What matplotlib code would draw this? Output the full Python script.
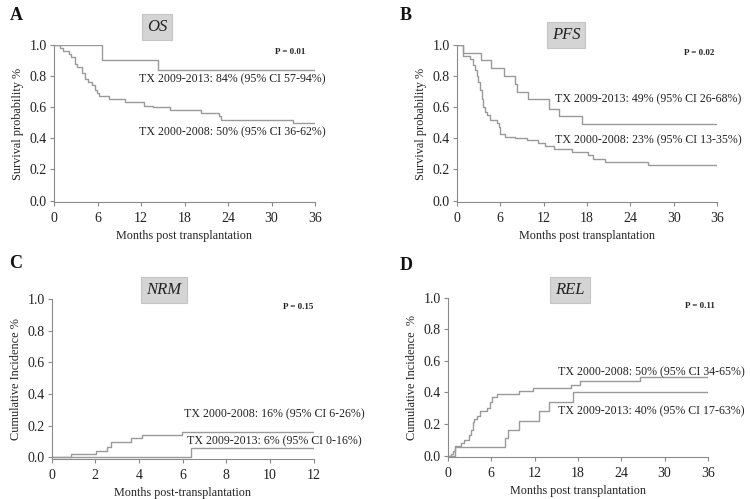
import matplotlib as mpl
import matplotlib.pyplot as plt

mpl.rcParams.update({
    "font.family": ["Liberation Serif", "DejaVu Serif"],
    "font.size": 8.5,
    "axes.spines.right": False,
    "axes.spines.top": False,
    "axes.linewidth": 0.8,
    "axes.edgecolor": "#8a8a8a",
    "xtick.color": "#8a8a8a",
    "ytick.color": "#8a8a8a",
    "xtick.labelcolor": "#222222",
    "ytick.labelcolor": "#222222",
    "xtick.major.size": 3,
    "ytick.major.size": 3,
    "xtick.major.pad": 4,
    "ytick.major.pad": 2,
})

LINE = "#9a9a9a"

# OS
os_new_t = [0, 6.6, 14.3]
os_new_v = [1.0, 0.90, 0.84]
os_old_t = [0, 0.8, 1.3, 2.0, 2.4, 2.9, 3.2, 3.8, 4.3, 4.7, 5.2, 5.7, 5.9, 6.2,
            7.6, 9.8, 12.4, 13.6, 16.0, 20.3, 22.7, 23.1, 32.9]
os_old_v = [1.0, 0.98, 0.96, 0.94, 0.92, 0.88, 0.86, 0.82, 0.78, 0.76, 0.74, 0.71, 0.69, 0.67,
            0.65, 0.63, 0.61, 0.60, 0.58, 0.56, 0.54, 0.52, 0.50]

# PFS
pfs_new_t = [0, 0.9, 3.4, 4.8, 6.5, 8.0, 8.4, 9.8, 12.7, 14.1, 17.3]
pfs_new_v = [1.0, 0.95, 0.90, 0.85, 0.80, 0.75, 0.70, 0.65, 0.59, 0.54, 0.49]
pfs_old_t = [0, 0.9, 1.8, 2.3, 2.5, 2.8, 3.0, 3.2, 3.5, 3.7, 3.9, 4.2, 4.6, 5.5, 5.8, 6.0,
             6.7, 8.1, 9.7, 11.3, 12.2, 13.4, 15.9, 18.2, 18.9, 20.5, 26.5]
pfs_old_v = [1.0, 0.93, 0.91, 0.87, 0.84, 0.80, 0.76, 0.71, 0.65, 0.60, 0.57, 0.55, 0.52, 0.50,
             0.47, 0.43, 0.41, 0.40, 0.39, 0.37, 0.35, 0.33, 0.31, 0.29, 0.27, 0.25, 0.23]

# NRM
nrm_old_t = [0, 0.88, 2.05, 2.55, 2.7, 3.65, 4.15, 5.98]
nrm_old_v = [0.0, 0.022, 0.044, 0.066, 0.10, 0.12, 0.14, 0.16]
nrm_new_t = [0, 6.38]
nrm_new_v = [0.0, 0.06]

# REL
rel_old_t = [0, 0.45, 0.7, 1.0, 1.8, 2.2, 3.0, 3.2, 3.45, 3.7, 4.0, 4.5, 5.4, 5.8, 6.1,
             6.8, 9.8, 11.8, 17.1, 18.3, 26.6]
rel_old_v = [0.0, 0.01, 0.03, 0.06, 0.08, 0.10, 0.13, 0.16, 0.21, 0.23, 0.25, 0.28, 0.30,
             0.34, 0.37, 0.39, 0.41, 0.43, 0.45, 0.47, 0.50]
rel_new_t = [0, 1.0, 7.9, 8.3, 9.8, 12.6, 14.0, 17.3]
rel_new_v = [0.0, 0.055, 0.11, 0.16, 0.22, 0.28, 0.34, 0.40]

panels = [
    dict(letter="A", title="OS", rect=[0.072, 0.595, 0.348, 0.315], xmax=36, xstep=6,
         ylabel="Survival probability %", xlabel="Months post transplantation",
         curves=[(os_new_t, os_new_v), (os_old_t, os_old_v)], p="P = 0.01", pxy=(32.6, 0.955),
         notes=[(11.7, 0.777, "TX 2009-2013: 84% (95% CI 57-94%)"),
                (11.7, 0.44, "TX 2000-2008: 50% (95% CI 36-62%)")],
         box=(157, 27), lab=(16, 15)),
    dict(letter="B", title="PFS", rect=[0.609, 0.595, 0.347, 0.315], xmax=36, xstep=6,
         ylabel="Survival probability %", xlabel="Months post transplantation",
         curves=[(pfs_new_t, pfs_new_v), (pfs_old_t, pfs_old_v)], p="P = 0.02", pxy=(33.6, 0.95),
         notes=[(13.6, 0.65, "TX 2009-2013: 49% (95% CI 26-68%)"),
                (13.6, 0.39, "TX 2000-2008: 23% (95% CI 13-35%)")],
         box=(566, 35), lab=(406, 15)),
    dict(letter="C", title="NRM", rect=[0.069, 0.080, 0.349, 0.321], xmax=12, xstep=2,
         ylabel="Cumulative Incidence %", xlabel="Months post-transplantation",
         curves=[(nrm_old_t, nrm_old_v), (nrm_new_t, nrm_new_v)], p="P = 0.15", pxy=(11.3, 0.95),
         notes=[(6.05, 0.275, "TX 2000-2008: 16% (95% CI 6-26%)"),
                (6.2, 0.10, "TX 2009-2013: 6% (95% CI 0-16%)")],
         box=(164, 290), lab=(16, 263)),
    dict(letter="D", title="REL", rect=[0.597, 0.084, 0.347, 0.319], xmax=36, xstep=6,
         ylabel="Cumulative Incidence  %", xlabel="Months post transplantation",
         curves=[(rel_old_t, rel_old_v), (rel_new_t, rel_new_v)], p="P = 0.11", pxy=(34.9, 0.95),
         notes=[(15.2, 0.53, "TX 2000-2008: 50% (95% CI 34-65%)"),
                (15.2, 0.28, "TX 2009-2013: 40% (95% CI 17-63%)")],
         box=(570, 290), lab=(406, 265)),
]

W, H = 750, 499
fig = plt.figure(figsize=(7.5, 4.99), dpi=100)

for p in panels:
    ax = fig.add_axes(p["rect"])
    for t, v in p["curves"]:
        ax.step(list(t) + [p["xmax"]], list(v) + [v[-1]], where="post", color=LINE, lw=1.0)
    ax.set_xlim(0, p["xmax"])
    ax.set_ylim(-0.01, 1.0)
    ax.set_xticks(range(0, p["xmax"] + 1, p["xstep"]))
    ax.set_yticks([0, 0.2, 0.4, 0.6, 0.8, 1.0])
    ax.set_yticklabels(["0.0", "0.2", "0.4", "0.6", "0.8", "1.0"])
    ax.tick_params(labelsize=10)
    ax.set_ylabel(p["ylabel"], fontsize=8.8, color="#222222", labelpad=4)
    ax.set_xlabel(p["xlabel"], fontsize=8.7, color="#222222", labelpad=4)
    ax.text(p["pxy"][0], p["pxy"][1], p["p"], fontsize=6.5, fontweight="bold",
            ha="center", va="center", color="#222222")
    for x, y, s in p["notes"]:
        ax.text(x, y, s, fontsize=8.6, ha="left", va="center", color="#222222")
    bx, by = p["box"]
    fig.text(bx / W, 1 - by / H, p["title"], fontsize=12, style="italic", ha="center", va="center",
             color="#222222",
             bbox=dict(boxstyle="square,pad=0.3", facecolor="#d4d4d4", edgecolor="#c4c4c4", lw=0.8))
    lx, ly = p["lab"]
    fig.text(lx / W, 1 - ly / H, p["letter"], fontsize=13, fontweight="bold", ha="center",
             va="center", color="#111111")

fig.savefig("out.png", dpi=100)
